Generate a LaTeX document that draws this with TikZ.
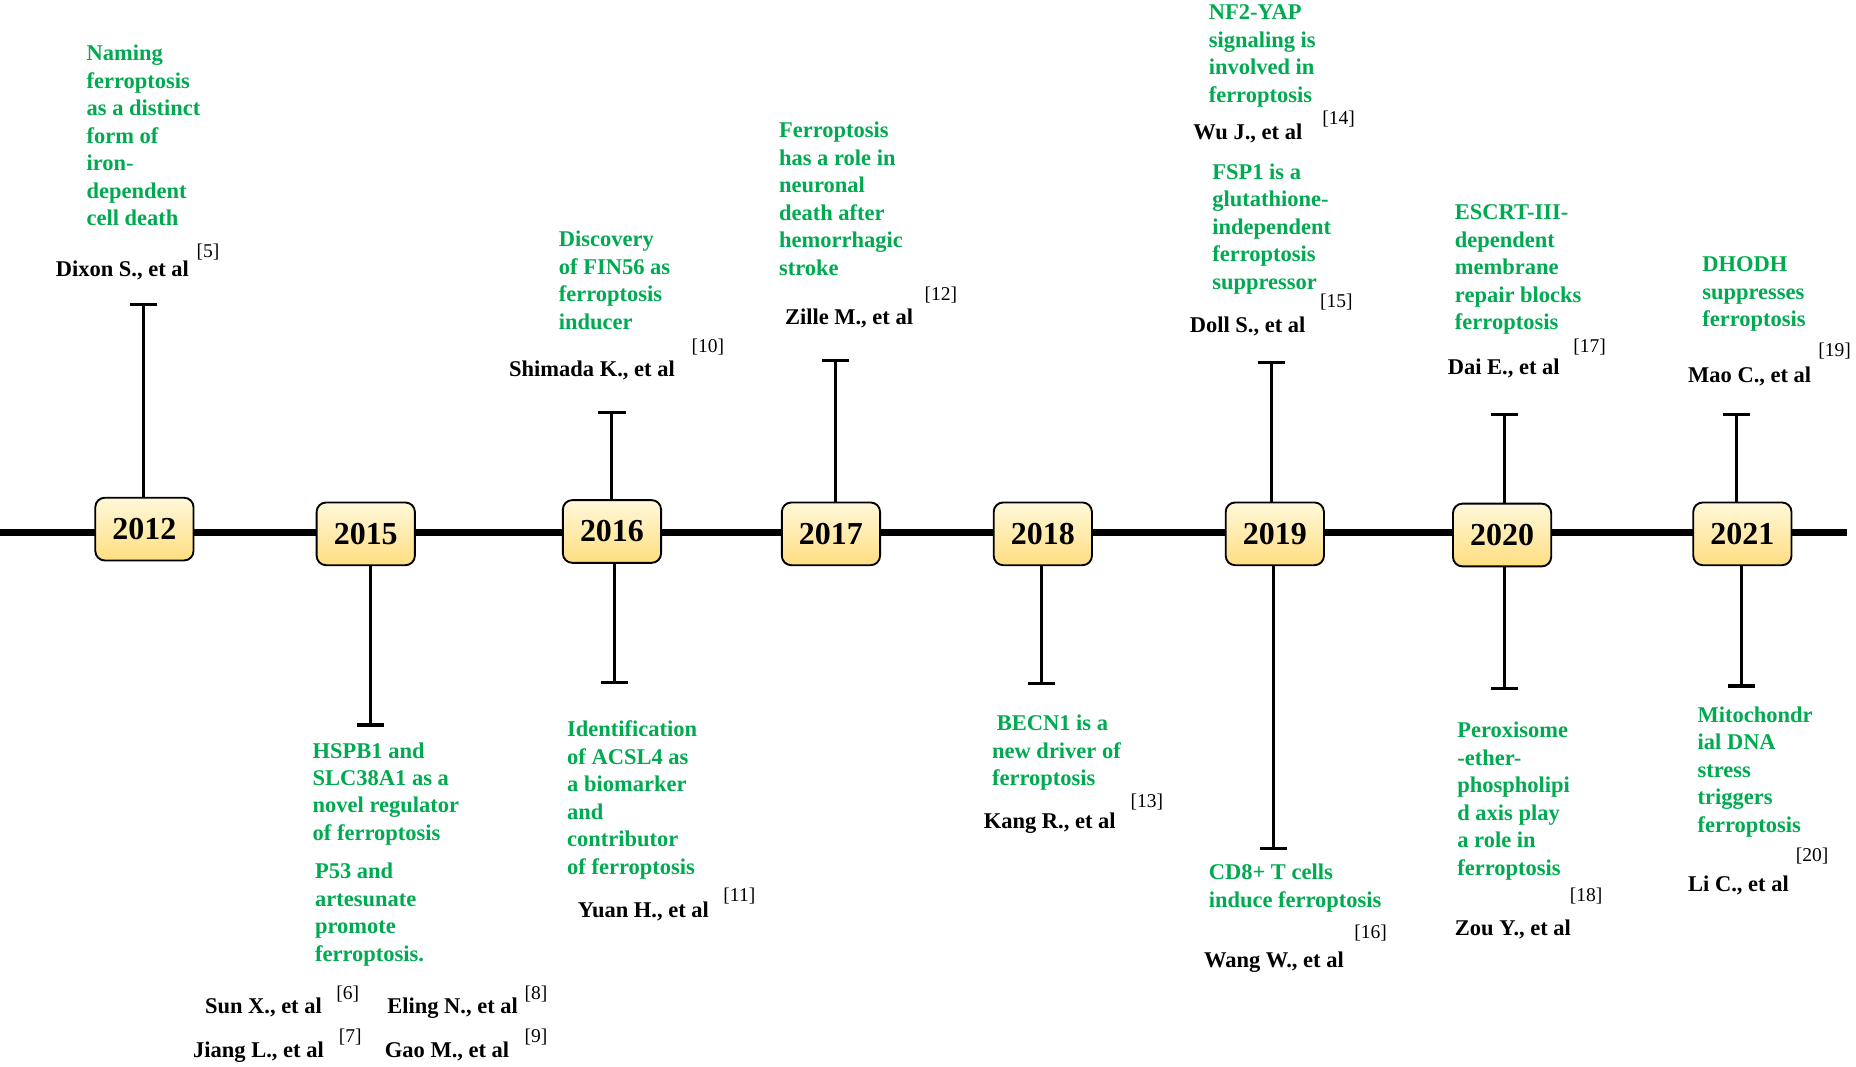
\documentclass[tikz,border=0pt]{standalone}
\usepackage{fontspec}
\setmainfont{Liberation Serif}
\usetikzlibrary{arrows.meta}
\definecolor{evgreen}{RGB}{0,170,80}
\definecolor{boxtop}{RGB}{255,248,218}
\definecolor{boxbot}{RGB}{255,222,128}
\begin{document}
\begin{tikzpicture}[x=1pt,y=-1pt,
 yearbox/.style={draw=black, line width=1.6pt, rounded corners=8pt, minimum width=83pt, minimum height=53pt, inner sep=0pt, top color=boxtop, bottom color=boxbot, font=\fontsize{27}{30}\selectfont\bfseries},
 event/.style={anchor=north west, inner sep=0pt, align=left, text=evgreen, font=\fontsize{19}{23.2}\selectfont\bfseries},
 author/.style={anchor=base west, inner sep=0pt, font=\fontsize{19}{23}\selectfont\bfseries},
 refno/.style={anchor=base west, inner sep=0pt, font=\fontsize{16.5}{18}\selectfont},
 stem/.style={line width=2.5pt, -{Bar[width=23pt,line width=2.8pt]}},
 timeline/.style={line width=6pt}]
\useasboundingbox (0,0) rectangle (1568,901.4);

% main line
\coordinate (L0) at (0,450);
\coordinate (L1) at (1560,450);
\draw[timeline] (L0) -- (L1);

% year boxes
\node[yearbox] (y12) at (122,447) {2012};
\node[yearbox] (y15) at (309,451) {2015};
\node[yearbox] (y16) at (517,449) {2016};
\node[yearbox] (y17) at (702,451) {2017};
\node[yearbox] (y18) at (881,451) {2018};
\node[yearbox] (y19) at (1077,451) {2019};
\node[yearbox] (y20) at (1269,452) {2020};
\node[yearbox] (y21) at (1472,451) {2021};

% stem ends
\coordinate (t12) at (121,256);
\coordinate (t15) at (313,614);
\coordinate (t16a) at (517,347);
\coordinate (t16b) at (519,578);
\coordinate (t17) at (706,303);
\coordinate (t18) at (880,579);
\coordinate (t19a) at (1074,305);
\coordinate (t19b) at (1076,718);
\coordinate (t20a) at (1271,349);
\coordinate (t20b) at (1271,583);
\coordinate (t21a) at (1467,349);
\coordinate (t21b) at (1471,581);

\draw[stem] (t12 |- y12.north) -- (t12);
\draw[stem] (t15 |- y15.south) -- (t15);
\draw[stem] (t16a |- y16.north) -- (t16a);
\draw[stem] (t16b |- y16.south) -- (t16b);
\draw[stem] (t17 |- y17.north) -- (t17);
\draw[stem] (t18 |- y18.south) -- (t18);
\draw[stem] (t19a |- y19.north) -- (t19a);
\draw[stem] (t19b |- y19.south) -- (t19b);
\draw[stem] (t20a |- y20.north) -- (t20a);
\draw[stem] (t20b |- y20.south) -- (t20b);
\draw[stem] (t21a |- y21.north) -- (t21a);
\draw[stem] (t21b |- y21.south) -- (t21b);

% events (green)
\node[event] (e12) at (73,38) {Naming\\ferroptosis\\as a distinct\\form of\\iron-\\dependent\\cell death};
\node[event] (e16a) at (472,195) {Discovery\\of FIN56 as\\ferroptosis\\inducer};
\node[event] (e17) at (658,103) {Ferroptosis\\has a role in\\neuronal\\death after\\hemorrhagic\\stroke};
\node[event] (e19a) at (1021,4) {NF2-YAP\\signaling is\\involved in\\ferroptosis};
\node[event] (e19b) at (1024,138) {FSP1 is a\\glutathione-\\independent\\ferroptosis\\suppressor};
\node[event] (e20a) at (1229,173) {ESCRT-III-\\dependent\\membrane\\repair blocks\\ferroptosis};
\node[event] (e21a) at (1438,217) {DHODH\\suppresses\\ferroptosis};
\node[event] (e15a) at (264,627) {HSPB1 and\\SLC38A1 as a\\novel regulator\\of ferroptosis};
\node[event] (e15b) at (266,729) {P53 and\\artesunate\\promote\\ferroptosis.};
\node[event] (e16b) at (479,609) {Identification\\of ACSL4 as\\a biomarker\\and\\contributor\\of ferroptosis};
\node[event] (e18) at (838,604) {\hspace{4pt}BECN1 is a\\new driver of\\ferroptosis};
\node[event] (e19c) at (1021,730) {CD8+ T cells\\induce ferroptosis};
\node[event] (e20b) at (1231,610) {Peroxisome\\-ether-\\phospholipi\\d axis play\\a role in\\ferroptosis};
\node[event] (e21b) at (1434,597) {Mitochondr\\ial DNA\\stress\\triggers\\ferroptosis};

% authors and references
\node[author] (a5) at (47,234) {Dixon S., et al};
\node[refno] (r5) at (166,217.5) {[5]};
\node[author] (a10) at (430,318) {Shimada K., et al};
\node[refno] (r10) at (584,297.5) {[10]};
\node[author] (a12) at (663,274) {Zille M., et al};
\node[refno] (r12) at (781,253.5) {[12]};
\node[author] (a14) at (1008,118) {Wu J., et al};
\node[refno] (r14) at (1117,105.5) {[14]};
\node[author] (a15) at (1005,281) {Doll S., et al};
\node[refno] (r15) at (1115,259.5) {[15]};
\node[author] (a17) at (1223,316) {Dai E., et al};
\node[refno] (r17) at (1329,297.5) {[17]};
\node[author] (a19) at (1426,323) {Mao C., et al};
\node[refno] (r19) at (1536,301.5) {[19]};
\node[author] (a6) at (173,856) {Sun X., et al};
\node[refno] (r6) at (284,844.5) {[6]};
\node[author] (a8) at (327,856) {Eling N., et al};
\node[refno] (r8) at (443,844.5) {[8]};
\node[author] (a7) at (163,893) {Jiang L., et al};
\node[refno] (r7) at (286,880.5) {[7]};
\node[author] (a9) at (325,893) {Gao M., et al};
\node[refno] (r9) at (443,880.5) {[9]};
\node[author] (a11) at (488,775) {Yuan H., et al};
\node[refno] (r11) at (611,761.5) {[11]};
\node[author] (a13) at (831,700) {Kang R., et al};
\node[refno] (r13) at (955,682.5) {[13]};
\node[author] (a16) at (1017,817) {Wang W., et al};
\node[refno] (r16) at (1144,792.5) {[16]};
\node[author] (a18) at (1229,790) {Zou Y., et al};
\node[refno] (r18) at (1326,761.5) {[18]};
\node[author] (a20) at (1426,753) {Li C., et al};
\node[refno] (r20) at (1517,727.5) {[20]};
\end{tikzpicture}
\end{document}
